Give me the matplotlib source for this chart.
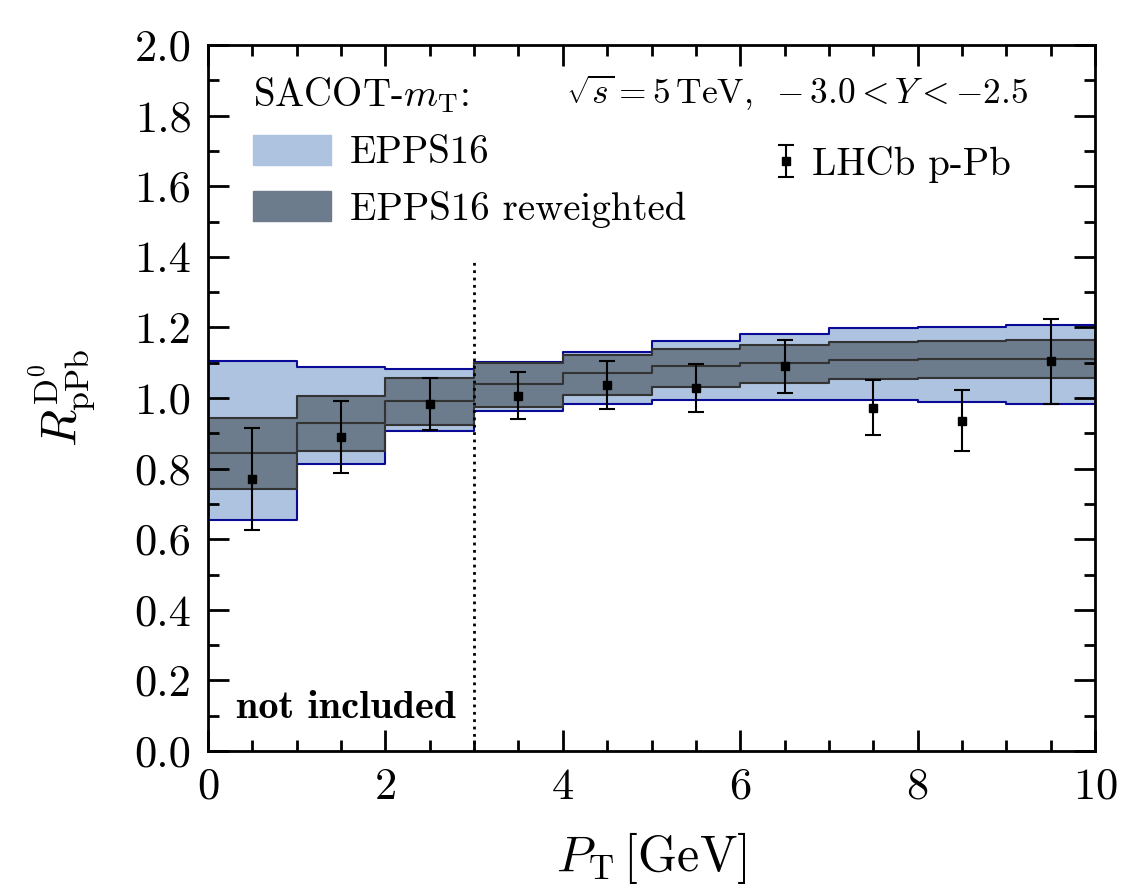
import numpy as np
import matplotlib
matplotlib.use("Agg")
import matplotlib.pyplot as plt
from matplotlib.patches import Patch
from matplotlib.legend_handler import HandlerErrorbar
from matplotlib.ticker import MultipleLocator

plt.rcParams['font.family'] = 'serif'
plt.rcParams['font.serif'] = ['cmr10']
plt.rcParams['mathtext.fontset'] = 'cm'
plt.rcParams['axes.formatter.use_mathtext'] = True

# pT bin edges
bin_edges = [0, 1, 2, 3, 4, 5, 6, 7, 8, 9, 10]

# EPPS16 band (light)
epps_hi = [1.105, 1.089, 1.081, 1.103, 1.129, 1.161, 1.181, 1.197, 1.202, 1.207]
epps_lo = [0.654, 0.813, 0.907, 0.964, 0.983, 0.994, 0.994, 0.994, 0.988, 0.983]

# EPPS16 reweighted band (dark) and central value
rew_hi = [0.942, 1.006, 1.057, 1.100, 1.122, 1.139, 1.149, 1.159, 1.162, 1.164]
rew_mid = [0.843, 0.928, 0.992, 1.040, 1.070, 1.091, 1.100, 1.108, 1.110, 1.111]
rew_lo = [0.741, 0.851, 0.924, 0.975, 1.008, 1.032, 1.043, 1.053, 1.056, 1.056]

# LHCb p-Pb data
data_pt = [0.5, 1.5, 2.5, 3.5, 4.5, 5.5, 6.5, 7.5, 8.5, 9.5]
data_r = [0.771, 0.890, 0.982, 1.007, 1.037, 1.027, 1.091, 0.973, 0.936, 1.104]
data_up = [0.916, 0.992, 1.056, 1.075, 1.104, 1.095, 1.164, 1.051, 1.022, 1.225]
data_dn = [0.626, 0.788, 0.909, 0.940, 0.970, 0.960, 1.015, 0.896, 0.849, 0.984]

light_col = '#adc3e0'
dark_col = '#6c7c8d'


def stepped(vals):
    return list(vals) + [vals[-1]]


fig = plt.figure(figsize=(11.27, 8.91), dpi=100)
ax = fig.add_axes([0.1846, 0.1571, 0.787, 0.7924])

ax.fill_between(bin_edges, stepped(epps_lo), stepped(epps_hi), step='post',
                color=light_col, lw=0)
ax.step(bin_edges, stepped(epps_hi), where='post', color='#0a0a96', lw=1.5)
ax.step(bin_edges, stepped(epps_lo), where='post', color='#0a0a96', lw=1.5)

ax.fill_between(bin_edges, stepped(rew_lo), stepped(rew_hi), step='post',
                color=dark_col, lw=0)
for v in (rew_hi, rew_mid, rew_lo):
    ax.step(bin_edges, stepped(v), where='post', color='#333333', lw=1.5)

yerr = [np.array(data_r) - np.array(data_dn), np.array(data_up) - np.array(data_r)]
eb = ax.errorbar(data_pt, data_r, yerr=yerr, fmt='s', color='black', ms=6,
                 capsize=6, elinewidth=1.5, capthick=1.5, zorder=5)

ax.vlines(3, 0, 1.39, colors='black', linestyles=':', lw=2)

ax.set_xlim(0, 10)
ax.set_ylim(0, 2.0)
ax.xaxis.set_major_locator(MultipleLocator(2))
ax.xaxis.set_minor_locator(MultipleLocator(0.5))
ax.yaxis.set_major_locator(MultipleLocator(0.2))
ax.yaxis.set_minor_locator(MultipleLocator(0.1))
ax.tick_params(which='both', direction='in', top=True, right=True,
               width=2, labelsize=32, pad=12)
ax.tick_params(which='major', length=15)
ax.tick_params(which='minor', length=8)
for s in ax.spines.values():
    s.set_linewidth(2)
ax.yaxis.set_major_formatter(matplotlib.ticker.FormatStrFormatter('%.1f'))

ax.set_xlabel(r'$P_{\rm T}\,[{\rm GeV}]$', fontsize=36, labelpad=16)
ax.set_ylabel(r'$R^{\rm D^0}_{\rm pPb}$', fontsize=35, labelpad=26)

ax.text(0.32, 0.07, 'not included', family='cmb10',
        fontsize=29, ha='left', va='bottom')
ax.text(0.664, 0.932, r'$\sqrt{s} = 5\,{\rm TeV},\ -3.0 < Y < -2.5$',
        transform=ax.transAxes, fontsize=25.5, ha='center', va='center')

leg1 = ax.legend(handles=[Patch(color=light_col, label='EPPS16'),
                          Patch(color=dark_col, label='EPPS16 reweighted')],
                 title=r'SACOT-$m_{\rm T}$:', title_fontsize=28, fontsize=28,
                 loc='upper left', bbox_to_anchor=(0.02, 0.995), frameon=False,
                 alignment='left', handlelength=2.0, handleheight=0.8,
                 handletextpad=0.5, labelspacing=0.5, borderaxespad=0.3)
leg1._legend_handle_box.sep = 18
ax.add_artist(leg1)
ax.legend(handles=[eb], labels=['LHCb p-Pb'], fontsize=28, loc='upper right',
          bbox_to_anchor=(0.944, 0.907), frameon=False, handlelength=0.5,
          handletextpad=0.4,
          handler_map={type(eb): HandlerErrorbar(yerr_size=0.4)})

fig.savefig('out.png', dpi=100)
